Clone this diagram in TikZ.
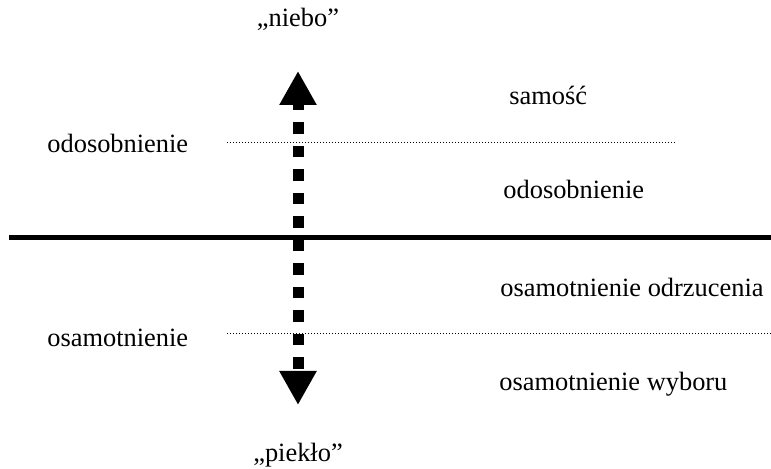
\documentclass[tikz,border=0pt]{standalone}
\usepackage{fontspec}
\setmainfont{Liberation Serif}
\usepackage{tikz}
\usetikzlibrary{arrows.meta}
\definecolor{ColLine}{RGB}{0,0,0}
\tikzstyle{LabelText}=[inner sep=0pt,anchor=base west,font=\fontsize{13.2}{15}\selectfont]
\tikzstyle{PoleText}=[inner sep=0pt,anchor=base,font=\fontsize{13.2}{15}\selectfont]
\tikzstyle{ThickLine}=[ColLine,line width=2.5pt]
\tikzstyle{DotLine}=[ColLine,line width=0.5pt,dash pattern=on 0.5pt off 1pt]
\tikzstyle{ArrowShaft}=[ColLine,line width=5.5pt,dash pattern=on 5.75pt off 6pt,dash phase=2pt,
{Triangle[width=17.5pt,length=17pt]}-{Triangle[width=17.5pt,length=17pt]}]

\begin{document}
\begin{tikzpicture}[x=0.5pt,y=-0.5pt]
        \useasboundingbox(0,0)rectangle(771,469);
        % poles
        \node[PoleText](niebo)at(298,27){,,niebo''};
        \node[PoleText](pieklo)at(298,462){,,piekło''};
        % left labels
        \node[LabelText](odosL)at(47,153){odosobnienie};
        \node[LabelText](osamL)at(47,347){osamotnienie};
        % right labels
        \node[LabelText](samosc)at(509,105){samość};
        \node[LabelText](odosR)at(503,199){odosobnienie};
        \node[LabelText](osamOdrz)at(500,297){osamotnienie odrzucenia};
        \node[LabelText](osamWyb)at(499,391){osamotnienie wyboru};
        % lines
        \coordinate(midL)at(9,238);
        \coordinate(midR)at(771,238);
        \coordinate(upL)at(227,142.5);
        \coordinate(upR)at(676,142.5);
        \coordinate(loL)at(227,334);
        \coordinate(loR)at(771,334);
        \draw[ThickLine](midL)--(midR);
        \draw[DotLine](upL)--(upR);
        \draw[DotLine](loL)--(loR);
        % arrow
        \coordinate(top)at(298,71);
        \coordinate(bot)at(298,405);
        \draw[ArrowShaft](top)--(bot);
    \end{tikzpicture}
\end{document}
